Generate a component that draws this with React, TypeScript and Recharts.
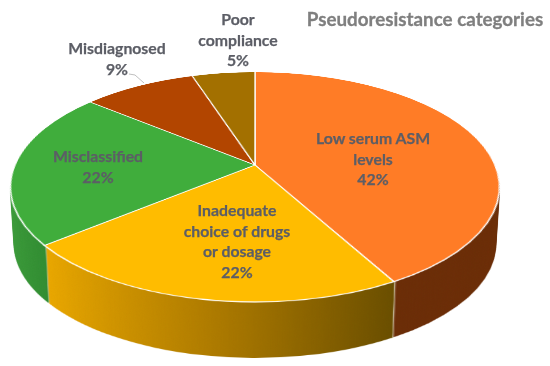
import { Cell, Pie, PieChart } from 'recharts';

const categories = ['Low serum ASM levels', 'Inadequate choice of drugs or dosage', 'Misclassified', 'Misdiagnosed', 'Poor compliance'];
const shares = [42, 22, 22, 9, 5];
const topColors = ['#FF7C26', '#FFBC00', '#40AD3C', '#B24500', '#A37000'];
const sideColors = ['#6B2D07', 'url(#sideYellow)', 'url(#sideGreen)', '#6E2B00', '#614300'];
const labelLines = [
  ['Low serum ASM', 'levels'],
  ['Inadequate', 'choice of drugs', 'or dosage'],
  ['Misclassified'],
  ['Misdiagnosed'],
  ['Poor', 'compliance'],
];
const labelAnchors = [
  { x: 373, y: 144 },
  { x: 237, y: 216 },
  { x: 98, y: 162 },
  { x: 117, y: 54 },
  { x: 238, y: 25 },
];

const SIZE = 500;
const RADIUS = 240;
const SIDE_LAYERS = 58;
const SEAM = 0.07;
const FONT = 'Lato, "Open Sans", sans-serif';

const pieData = categories.map((name, index) => ({ name, value: shares[index] }));
const sideData = pieData.flatMap((entry) => [entry, { name: `${entry.name} seam`, value: SEAM }]);

// perspective tilt of the flat pie, the apex sits above the middle of the ellipse
const tilt = 'matrix3d(1,0,0,0, 0,0.4617,0,-0.000796, 0,0,1,0, 0,0,0,1)';

const PiePlane = ({ depth, scale, side }: { depth: number; scale: number; side: boolean }) => (
  <div
    style={{
      position: 'absolute',
      left: 5,
      top: -85,
      width: SIZE,
      height: SIZE,
      transformOrigin: '250px 250px',
      transform: `translateY(${depth}px) scale(${scale}) ${tilt}`,
    }}
  >
    <PieChart width={SIZE} height={SIZE} margin={{ top: 0, right: 0, bottom: 0, left: 0 }}>
      <Pie
        data={side ? sideData : pieData}
        dataKey="value"
        nameKey="name"
        cx={250}
        cy={250}
        innerRadius={0}
        outerRadius={RADIUS}
        startAngle={90}
        endAngle={-270}
        stroke={side ? 'none' : '#FFFFFF'}
        strokeWidth={side ? 0 : 1.4}
        isAnimationActive={false}
      >
        {side
          ? sideData.map((entry, index) => (
              <Cell key={entry.name} fill={index % 2 ? '#E4DFD0' : sideColors[index / 2]} />
            ))
          : pieData.map((entry, index) => <Cell key={entry.name} fill={topColors[index]} />)}
      </Pie>
    </PieChart>
  </div>
);

const ChartLabels = () => (
  <svg width={550} height={366} style={{ position: 'absolute', left: 0, top: 0 }}>
    <text
      x={425}
      y={26}
      textAnchor="middle"
      fontFamily={FONT}
      fontWeight={700}
      fontSize={18.8}
      fill="#7F7F7F"
      stroke="#7F7F7F"
      strokeWidth={0.3}
    >
      Pseudoresistance categories
    </text>
    <polyline points="129,74 135,75 144,83" fill="none" stroke="#BFBFBF" strokeWidth={1} />
    {categories.map((name, index) => (
      <text
        key={name}
        textAnchor="middle"
        fontFamily={FONT}
        fontWeight={700}
        fontSize={15.8}
        fill="#5C5E66"
        stroke="#5C5E66"
        strokeWidth={0.25}
      >
        {[...labelLines[index], `${shares[index]}%`].map((line, row) => (
          <tspan key={line} x={labelAnchors[index].x} y={labelAnchors[index].y + row * 20.5}>
            {line}
          </tspan>
        ))}
      </text>
    ))}
  </svg>
);

export default function App() {
  const layers = Array.from({ length: SIDE_LAYERS }, (_, index) => SIDE_LAYERS - index);

  return (
    <div style={{ position: 'absolute', left: 0, top: 0, width: 550, height: 366, overflow: 'hidden', background: '#fff' }}>
      <svg width={0} height={0} style={{ position: 'absolute' }}>
        <defs>
          <linearGradient id="sideYellow" gradientUnits="userSpaceOnUse" x1={68} x2={365} y1={0} y2={0}>
            <stop offset="0%" stopColor="#E8A600" />
            <stop offset="50%" stopColor="#AD7A00" />
            <stop offset="100%" stopColor="#6A4E00" />
          </linearGradient>
          <linearGradient id="sideGreen" gradientUnits="userSpaceOnUse" x1={10} x2={75} y1={0} y2={0}>
            <stop offset="0%" stopColor="#3C9C3A" />
            <stop offset="100%" stopColor="#2F8A30" />
          </linearGradient>
        </defs>
      </svg>
      {layers.map((depth) => (
        <PiePlane key={depth} depth={depth} scale={1 - (0.015 * depth) / SIDE_LAYERS} side />
      ))}
      <PiePlane depth={0} scale={1} side={false} />
      <ChartLabels />
    </div>
  );
}
